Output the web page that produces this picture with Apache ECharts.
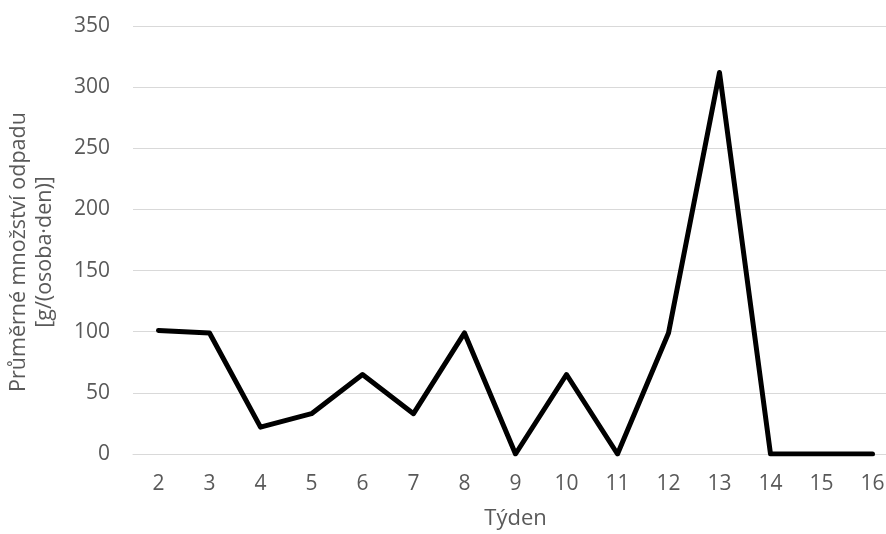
<!DOCTYPE html>
<html>
<head>
<meta charset="utf-8">
<script src="https://cdn.jsdelivr.net/npm/echarts@6/dist/echarts.min.js"></script>
<style>html,body{margin:0;padding:0;background:#fff;}#c{width:886px;height:534px;}</style>
</head>
<body>
<div id="c"></div>
<script>
const weeks = ['2','3','4','5','6','7','8','9','10','11','12','13','14','15','16'];
const waste = [101, 99, 22, 33, 65, 33, 99, 0, 65, 0, 99, 312, 0, 0, 0];
const yTitle = 'Průměrné množství odpadu\n[g/(osoba·den)]';
const xTitle = 'Týden';

const chart = echarts.init(document.getElementById('c'), null, {renderer: 'canvas'});
const font = '"Open Sans", sans-serif';
chart.setOption({
  animation: false,
  backgroundColor: '#ffffff',
  grid: {left: 133, top: 26, width: 765, height: 428, outerBoundsMode: 'none', containLabel: false},
  xAxis: {
    type: 'category',
    data: weeks,
    boundaryGap: true,
    name: xTitle,
    nameLocation: 'middle',
    nameGap: 54,
    nameTextStyle: {color: '#595959', fontSize: 22, fontFamily: font},
    axisLine: {show: true, lineStyle: {color: '#d9d9d9', width: 1}},
    axisTick: {show: false},
    axisLabel: {color: '#595959', fontSize: 21, fontFamily: font, margin: 20}
  },
  yAxis: {
    type: 'value',
    min: 0, max: 350, interval: 50,
    name: yTitle,
    nameLocation: 'middle',
    nameRotate: 90,
    nameGap: 75,
    nameTextStyle: {color: '#595959', fontSize: 21.5, fontFamily: font, lineHeight: 26, padding: [0, 24, 0, 0]},
    axisLine: {show: false},
    axisTick: {show: false},
    axisLabel: {color: '#595959', fontSize: 21, fontFamily: font, margin: 23},
    splitLine: {lineStyle: {color: '#d9d9d9', width: 1}}
  },
  series: [{
    type: 'line',
    data: waste,
    showSymbol: false,
    symbol: 'none',
    lineStyle: {color: '#000000', width: 5, cap: 'round', join: 'round'}
  }]
});
</script>
</body>
</html>
